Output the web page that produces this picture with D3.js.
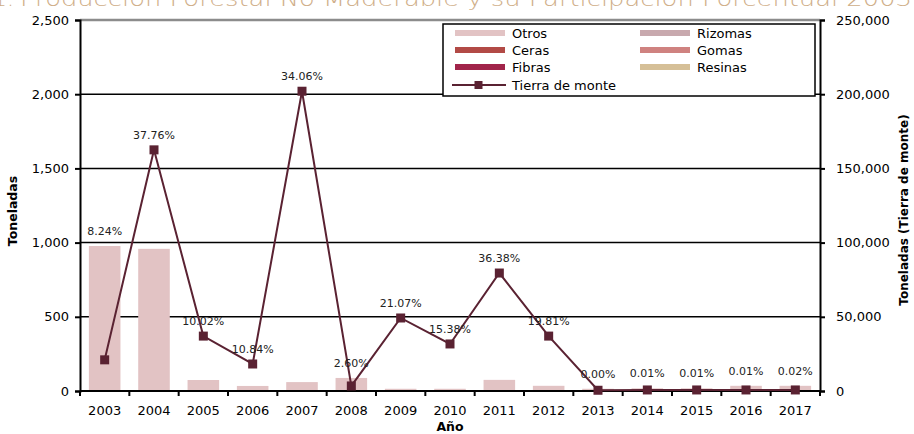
<!DOCTYPE html>
<html>
<head>
<meta http-equiv="Content-type" content="text/html; charset=utf-8">
<title>Produccion forestal no maderable</title>
<script src="https://cdn.jsdelivr.net/npm/d3@7/dist/d3.min.js"></script>
<style>
  body { margin: 0; background: #fff; }
  svg { font-family: "DejaVu Sans", sans-serif; }
</style>
</head>
<body>
<script type="text/javascript">

// DATA
var years = ["2003","2004","2005","2006","2007","2008","2009","2010","2011","2012","2013","2014","2015","2016","2017"];
var otros   = [977, 958, 74, 34, 60, 88, 15, 15, 75, 35, 15, 18, 18, 35, 35];
var rizomas = [0,0,0,0,0,0,0,0,0,0,0,0,0,0,0];
var ceras   = [0,0,0,0,0,0,0,0,0,0,0,0,0,0,0];
var gomas   = [0,0,0,0,0,0,0,0,0,0,0,0,0,0,0];
var fibras  = [0,0,0,0,0,0,0,0,0,0,0,0,0,0,0];
var resinas = [0,0,0,0,0,0,0,0,0,0,0,0,0,0,0];
var tierra  = [21000, 162500, 37000, 18200, 202000, 3400, 49200, 31700, 79500, 37000, 500, 700, 700, 700, 700];
var pcts    = ["8.24%","37.76%","10.02%","10.84%","34.06%","2.60%","21.07%","15.38%","36.38%","19.81%","0.00%","0.01%","0.01%","0.01%","0.02%"];
var leftTicks  = [0, 500, 1000, 1500, 2000, 2500];
var rightTicks = [0, 50000, 100000, 150000, 200000, 250000];

var seriesNames = ["Otros","Rizomas","Ceras","Gomas","Fibras","Resinas"];
var seriesColors = {Otros:"#e2c3c4", Rizomas:"#c8a9ae", Ceras:"#b24a46", Gomas:"#cf8280", Fibras:"#a1244a", Resinas:"#d5bf97"};
var lineColor = "#5a2232";

var W = 914, H = 434;
var pL = 80, pR = 820, pT = 20, pB = 391;

function init() {
  var svg = d3.select("body").append("svg").attr("width", W).attr("height", H);

  // title, cut off at the top like the original
  svg.append("text")
    .attr("x", 20).attr("y", 6)
    .attr("font-size", 22).attr("font-weight", 200)
    .attr("fill", "#cfae88")
    .attr("textLength", 892).attr("lengthAdjust", "spacingAndGlyphs")
    .text("Producción Forestal No Maderable y su Participación Porcentual 2003");
  svg.append("text")
    .attr("x", 14).attr("y", 6).attr("text-anchor", "end")
    .attr("font-size", 22).attr("font-weight", 200).attr("fill", "#cfae88")
    .text("1.");

  var x = d3.scaleBand().domain(years).range([pL, pR]).paddingInner(0.36).paddingOuter(0.18);
  var yL = d3.scaleLinear().domain([0, 2500]).range([pB, pT]);
  var yR = d3.scaleLinear().domain([0, 250000]).range([pB, pT]);

  // gridlines
  svg.append("g").selectAll("line")
    .data(leftTicks.filter(function(d){ return d > 0 && d < 2500; }))
    .enter().append("line")
    .attr("x1", pL).attr("x2", pR)
    .attr("y1", function(d){ return yL(d); }).attr("y2", function(d){ return yL(d); })
    .attr("stroke", "#000").attr("stroke-width", 1.5);

  // top border
  svg.append("line").attr("x1", pL).attr("x2", pR).attr("y1", pT).attr("y2", pT)
    .attr("stroke", "#8c8c8c").attr("stroke-width", 2.5);

  // stacked bars
  var table = years.map(function(y, i) {
    return {year: y, Otros: otros[i], Rizomas: rizomas[i], Ceras: ceras[i], Gomas: gomas[i], Fibras: fibras[i], Resinas: resinas[i]};
  });
  var stacked = d3.stack().keys(seriesNames)(table);
  svg.append("g").selectAll("g")
    .data(stacked)
    .enter().append("g")
    .attr("fill", function(d){ return seriesColors[d.key]; })
    .selectAll("rect")
    .data(function(d){ return d; })
    .enter().append("rect")
    .attr("x", function(d){ return x(d.data.year); })
    .attr("width", x.bandwidth())
    .attr("y", function(d){ return yL(d[1]); })
    .attr("height", function(d){ return yL(d[0]) - yL(d[1]); });

  // axes
  var axL = d3.axisLeft(yL).tickValues(leftTicks).tickSize(5).tickPadding(6).tickFormat(d3.format(","));
  var gL = svg.append("g").attr("transform", "translate(" + pL + ",0)").call(axL);
  var axR = d3.axisRight(yR).tickValues(rightTicks).tickSize(5).tickPadding(11).tickFormat(d3.format(","));
  var gR = svg.append("g").attr("transform", "translate(" + pR + ",0)").call(axR);
  var axB = d3.axisBottom(x).tickSize(0).tickPadding(15);
  var gB = svg.append("g").attr("transform", "translate(0," + pB + ")").call(axB);

  [gL, gR, gB].forEach(function(g) {
    g.select(".domain").attr("stroke", "#000").attr("stroke-width", 2);
    g.selectAll(".tick line").attr("stroke", "#000").attr("stroke-width", 2);
    g.selectAll(".tick text").attr("font-size", 13).attr("fill", "#000").attr("font-family", "DejaVu Sans");
  });
  gB.select(".domain").attr("d", "M" + pL + ",0H" + pR);

  // category boundary ticks on x axis
  var step = x.step();
  gB.append("g").selectAll("line")
    .data(d3.range(years.length + 1))
    .enter().append("line")
    .attr("x1", function(i){ return pL + i * step; })
    .attr("x2", function(i){ return pL + i * step; })
    .attr("y1", 0).attr("y2", 5)
    .attr("stroke", "#000").attr("stroke-width", 2);

  // line + markers
  var cx = function(i){ return x(years[i]) + x.bandwidth() / 2; };
  var line = d3.line().x(function(d, i){ return cx(i); }).y(function(d){ return yR(d); });
  svg.append("path").datum(tierra)
    .attr("d", line).attr("fill", "none")
    .attr("stroke", lineColor).attr("stroke-width", 2);
  svg.append("g").selectAll("rect")
    .data(tierra).enter().append("rect")
    .attr("x", function(d, i){ return cx(i) - 4.5; })
    .attr("y", function(d){ return yR(d) - 4.5; })
    .attr("width", 9).attr("height", 9)
    .attr("fill", lineColor);

  // percentage labels
  svg.append("g").selectAll("text")
    .data(pcts).enter().append("text")
    .attr("x", function(d, i){ return cx(i); })
    .attr("y", function(d, i){ return Math.min(yR(tierra[i]), yL(otros[i])) - 11; })
    .attr("text-anchor", "middle")
    .attr("font-size", 11)
    .attr("fill", "#222")
    .text(function(d){ return d; });

  // axis titles
  svg.append("text")
    .attr("transform", "translate(17,211) rotate(-90)")
    .attr("text-anchor", "middle").attr("font-size", 12.5).attr("font-weight", "bold")
    .text("Toneladas");
  svg.append("text")
    .attr("transform", "translate(908,210) rotate(-90)")
    .attr("text-anchor", "middle").attr("font-size", 12).attr("font-weight", "bold")
    .text("Toneladas (Tierra de monte)");
  svg.append("text")
    .attr("x", 450).attr("y", 431)
    .attr("text-anchor", "middle").attr("font-size", 12.5).attr("font-weight", "bold")
    .text("Año");

  // legend
  var lg = svg.append("g");
  lg.append("rect").attr("x", 443).attr("y", 24).attr("width", 372).attr("height", 72)
    .attr("fill", "#fff").attr("stroke", "#000").attr("stroke-width", 1.5);
  var cols = [455, 640];
  seriesNames.forEach(function(name, i) {
    var lx = cols[i % 2], cy = 33 + Math.floor(i / 2) * 17;
    lg.append("rect").attr("x", lx).attr("y", cy - 3).attr("width", 50).attr("height", 6)
      .attr("fill", seriesColors[name]);
    lg.append("text").attr("x", lx + 57).attr("y", cy + 4.5)
      .attr("font-size", 13).text(name);
  });
  var ly = 85;
  lg.append("line").attr("x1", 452).attr("x2", 506).attr("y1", ly).attr("y2", ly)
    .attr("stroke", lineColor).attr("stroke-width", 2);
  lg.append("rect").attr("x", 474.5).attr("y", ly - 4).attr("width", 8).attr("height", 8).attr("fill", lineColor);
  lg.append("text").attr("x", 512).attr("y", ly + 4.5).attr("font-size", 13).text("Tierra de monte");
}

init();
</script>
</body>
</html>
